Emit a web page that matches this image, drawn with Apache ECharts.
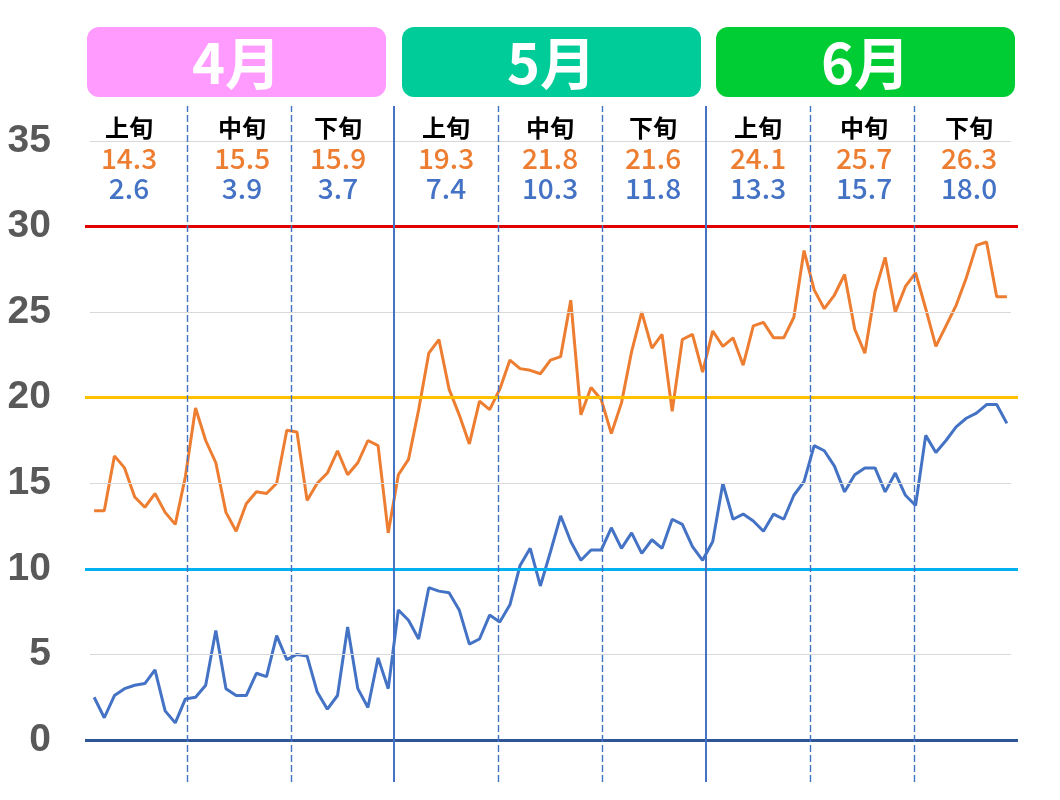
<!DOCTYPE html>
<html><head><meta charset="utf-8">
<script src="https://cdn.jsdelivr.net/npm/echarts@6/dist/echarts.min.js"></script>
<style>html,body{margin:0;padding:0;background:#fff}#c{width:1060px;height:800px}</style>
</head><body><div id="c"></div>
<script>
// ---- data ----
const months = ['4月', '5月', '6月'];
const decadeNames = ['上旬', '中旬', '下旬', '上旬', '中旬', '下旬', '上旬', '中旬', '下旬'];
const avgMax = ['14.3', '15.5', '15.9', '19.3', '21.8', '21.6', '24.1', '25.7', '26.3'];
const avgMin = ['2.6', '3.9', '3.7', '7.4', '10.3', '11.8', '13.3', '15.7', '18.0'];
const tMaxApr = [13.4, 13.4, 16.6, 15.9, 14.2, 13.6, 14.4, 13.3, 12.6, 15.4, 19.4, 17.5, 16.2, 13.3, 12.2, 13.8, 14.5, 14.4, 15.0, 18.1, 18.0, 14.0, 15.0, 15.6, 16.9, 15.5, 16.2, 17.5, 17.2, 12.1];
const tMaxMay = [15.5, 16.4, 19.3, 22.6, 23.4, 20.5, 19.0, 17.3, 19.8, 19.3, 20.5, 22.2, 21.7, 21.6, 21.4, 22.2, 22.4, 25.7, 19.0, 20.6, 19.9, 17.9, 19.7, 22.7, 25.0, 22.9, 23.7, 19.2, 23.4, 23.7, 21.5];
const tMaxJun = [23.9, 23.0, 23.5, 21.9, 24.2, 24.4, 23.5, 23.5, 24.7, 28.6, 26.3, 25.2, 26.0, 27.2, 24.0, 22.6, 26.2, 28.2, 25.0, 26.5, 27.3, 25.2, 23.0, 24.2, 25.4, 27.0, 28.9, 29.1, 25.9, 25.9];
const tMinApr = [2.5, 1.3, 2.6, 3.0, 3.2, 3.3, 4.1, 1.7, 1.0, 2.4, 2.5, 3.2, 6.4, 3.0, 2.6, 2.6, 3.9, 3.7, 6.1, 4.7, 5.0, 4.9, 2.8, 1.8, 2.6, 6.6, 3.0, 1.9, 4.8, 3.0];
const tMinMay = [7.6, 7.0, 5.9, 8.9, 8.7, 8.6, 7.6, 5.6, 5.9, 7.3, 6.9, 7.9, 10.2, 11.2, 9.0, 11.0, 13.1, 11.6, 10.5, 11.1, 11.1, 12.4, 11.2, 12.1, 10.9, 11.7, 11.2, 12.9, 12.6, 11.3, 10.5];
const tMinJun = [11.6, 15.0, 12.9, 13.2, 12.8, 12.2, 13.2, 12.9, 14.3, 15.1, 17.2, 16.9, 16.0, 14.5, 15.5, 15.9, 15.9, 14.5, 15.6, 14.3, 13.7, 17.8, 16.8, 17.5, 18.3, 18.8, 19.1, 19.6, 19.6, 18.5];
const yTicks = [0, 5, 10, 15, 20, 25, 30, 35];
const grayLines = [5, 15, 25, 35];
const colorLines = [0, 10, 20, 30];
// divider positions (day index) : solid = month boundary, dashed = decade boundary
const monthDividers = [29.55, 60.32];
const decadeDividers = [9.14, 19.46, 39.87, 50.12, 70.63, 80.89];

// ---- build ----
const tMax = tMaxApr.concat(tMaxMay, tMaxJun);
const tMin = tMinApr.concat(tMinMay, tMinJun);
const maxData = tMax.map((v, i) => [i, v]);
const minData = tMin.map((v, i) => [i, v]);

const monthColors = ['#FF9BFF', '#00CC99', '#00CC33'];
const colorLineColors = {0: '#2F5597', 10: '#00B0F0', 20: '#FFC000', 30: '#E00000'};
const boxes = [[87, 299], [402, 299], [716, 299]];
const decadeX = [129, 242, 338, 446, 550, 653, 758, 864, 969];
const JP = '"Noto Sans CJK JP","Noto Sans",sans-serif';

const graphic = [];
months.forEach((m, i) => {
  graphic.push({type: 'rect', shape: {x: boxes[i][0], y: 27, width: boxes[i][1], height: 70, r: 12},
    style: {fill: monthColors[i]}, z: 10});
  graphic.push({type: 'text', x: boxes[i][0] + boxes[i][1] / 2, y: 63, z: 11,
    style: {text: m, fill: '#fff', font: 'bold 56px ' + JP, textAlign: 'center', textVerticalAlign: 'middle', verticalAlign: 'middle'}});
});
decadeNames.forEach((d, i) => {
  graphic.push({type: 'text', x: decadeX[i], y: 128, z: 11,
    style: {text: d, fill: '#000', font: 'bold 24px ' + JP, textAlign: 'center', textVerticalAlign: 'middle', verticalAlign: 'middle'}});
  graphic.push({type: 'text', x: decadeX[i], y: 158, z: 11,
    style: {text: avgMax[i], fill: '#ED7D31', font: '500 28px ' + JP, textAlign: 'center', textVerticalAlign: 'middle', verticalAlign: 'middle'}});
  graphic.push({type: 'text', x: decadeX[i], y: 188, z: 11,
    style: {text: avgMin[i], fill: '#4472C4', font: '500 28px ' + JP, textAlign: 'center', textVerticalAlign: 'middle', verticalAlign: 'middle'}});
});

const chart = echarts.init(document.getElementById('c'), null, {renderer: 'canvas'});
chart.setOption({
  animation: false,
  backgroundColor: '#fff',
  grid: [
    {left: 85, right: 42, top: 141, bottom: 60},
    {left: 85, right: 42, top: 106, bottom: 18}
  ],
  xAxis: [
    {type: 'value', gridIndex: 0, min: -0.9, max: 91.1, show: false},
    {type: 'value', gridIndex: 1, min: -0.9, max: 91.1, show: false}
  ],
  yAxis: [
    {type: 'value', gridIndex: 0, min: yTicks[0], max: yTicks[yTicks.length - 1], interval: 5,
      axisLine: {show: false}, axisTick: {show: false}, splitLine: {show: false},
      axisLabel: {margin: 34, fontSize: 39, fontWeight: 'bold', color: '#595959',
        fontFamily: '"Liberation Sans", Arial, sans-serif', padding: [0, 0, 6, 0]}},
    {type: 'value', gridIndex: 1, min: 0, max: 1, show: false}
  ],
  graphic: graphic,
  series: [
    {type: 'line', xAxisIndex: 0, yAxisIndex: 0, data: [], z: 1, silent: true,
      markLine: {silent: true, symbol: 'none', label: {show: false},
        lineStyle: {color: '#D9D9D9', width: 1, type: 'solid'},
        data: grayLines.map(v => [{coord: [-0.4, v]}, {coord: [90.4, v]}])}},
    {name: '最高', type: 'line', xAxisIndex: 0, yAxisIndex: 0, data: maxData, showSymbol: false,
      lineStyle: {color: '#ED7D31', width: 3}, itemStyle: {color: '#ED7D31'}, z: 3},
    {name: '最低', type: 'line', xAxisIndex: 0, yAxisIndex: 0, data: minData, showSymbol: false,
      lineStyle: {color: '#4472C4', width: 3}, itemStyle: {color: '#4472C4'}, z: 3},
    {type: 'line', xAxisIndex: 0, yAxisIndex: 0, data: [], z: 5, silent: true,
      markLine: {silent: true, symbol: 'none', label: {show: false},
        data: colorLines.map(v => ({yAxis: v, lineStyle: {color: colorLineColors[v], width: 3, type: 'solid'}}))}},
    {type: 'line', xAxisIndex: 1, yAxisIndex: 1, data: [], z: 6, silent: true,
      markLine: {silent: true, symbol: 'none', label: {show: false},
        data: monthDividers.map(x => ({xAxis: x, lineStyle: {color: '#4472C4', width: 2, type: 'solid'}}))
          .concat(decadeDividers.map(x => ({xAxis: x, lineStyle: {color: '#4472C4', width: 1.4, type: [7, 3]}})))}}
  ]
});
</script>
</body></html>
